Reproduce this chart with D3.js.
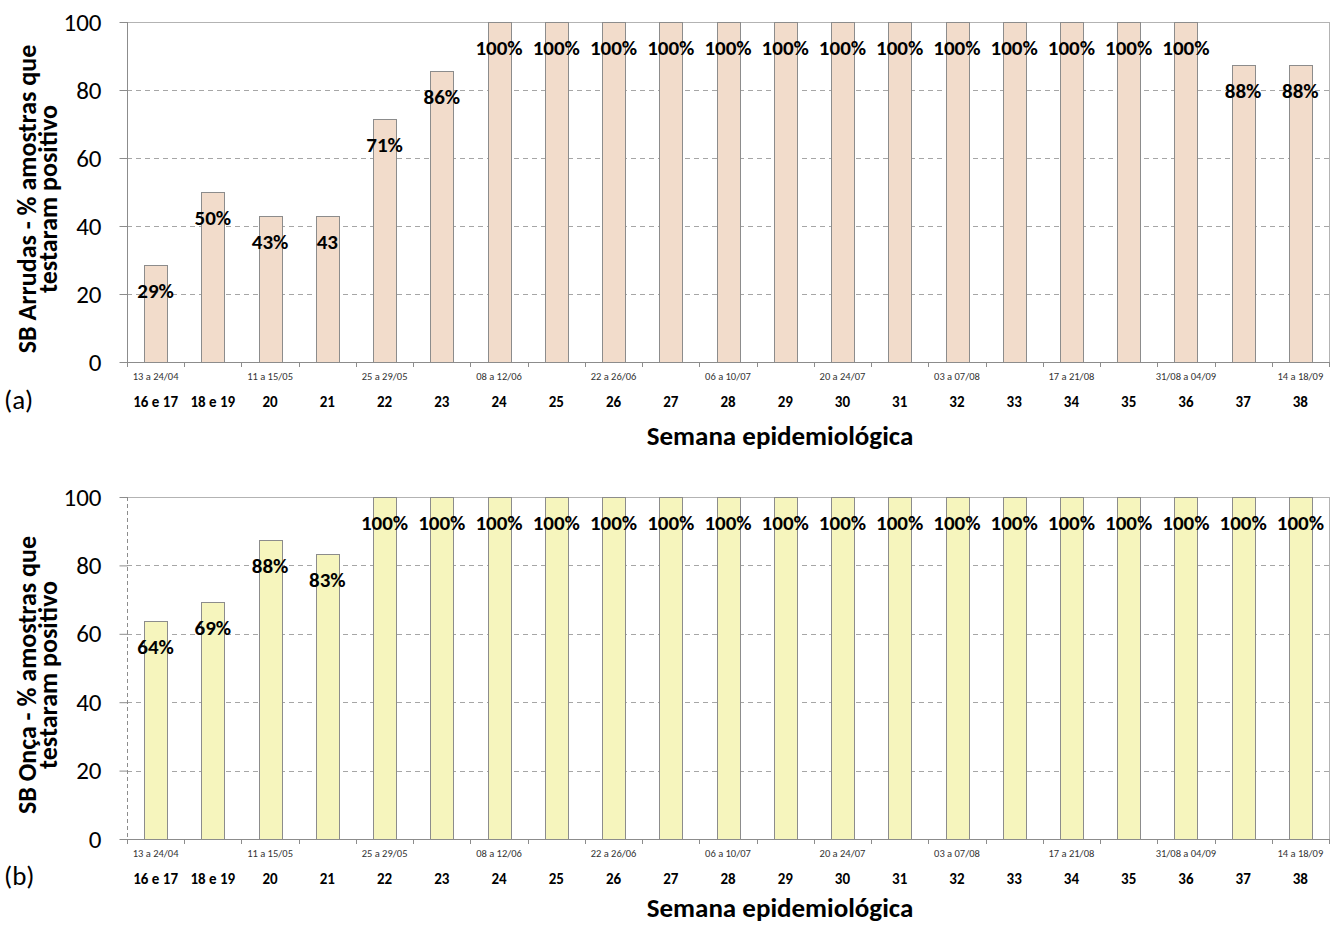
<!DOCTYPE html>
<html lang="pt">
<head>
<meta charset="utf-8">
<title>SB Arrudas / SB Onça</title>
<script src="https://cdn.jsdelivr.net/npm/d3@7"></script>
<style>
  body { margin: 0; background: #fff; }
  svg { font-family: Carlito, Lato, "Open Sans", sans-serif; }
</style>
</head>
<body>
<div id="chart"></div>
<script>
// categories (semana epidemiológica) and the date ranges shown under every other one
var semanas = ["16 e 17", "18 e 19", "20", "21", "22", "23", "24", "25", "26", "27", "28",
               "29", "30", "31", "32", "33", "34", "35", "36", "37", "38"];
var datas = ["13 a 24/04", "", "11 a 15/05", "", "25 a 29/05", "", "08 a 12/06", "",
             "22 a 26/06", "", "06 a 10/07", "", "20 a 24/07", "", "03 a 07/08", "",
             "17 a 21/08", "", "31/08 a 04/09", "", "14 a 18/09"];

// % amostras que testaram positivo
var arrudas = [28.6, 50, 42.9, 42.9, 71.4, 85.7, 100, 100, 100, 100, 100, 100, 100,
               100, 100, 100, 100, 100, 100, 87.5, 87.5];
var arrudasLabels = ["29%", "50%", "43%", "43", "71%", "86%", "100%", "100%", "100%", "100%",
                     "100%", "100%", "100%", "100%", "100%", "100%", "100%", "100%", "100%", "88%", "88%"];
var onca = [63.6, 69.2, 87.5, 83.3, 100, 100, 100, 100, 100, 100, 100, 100, 100,
            100, 100, 100, 100, 100, 100, 100, 100];
var oncaLabels = ["64%", "69%", "88%", "83%", "100%", "100%", "100%", "100%", "100%", "100%",
                  "100%", "100%", "100%", "100%", "100%", "100%", "100%", "100%", "100%", "100%", "100%"];
var yTicks = [0, 20, 40, 60, 80, 100];

var W = 1340, H = 925;
var svg = d3.select("#chart").append("svg")
    .attr("width", W)
    .attr("height", H);

function drawPanel(opts) {
  var left = 127, right = 1329;
  var top = opts.top, bottom = opts.bottom;

  var x = d3.scaleBand()
      .domain(d3.range(semanas.length))
      .range([left, right]);

  var y = d3.scaleLinear()
      .domain([0, 100])
      .range([bottom, top]);

  var g = svg.append("g");

  // gridlines
  g.selectAll(".grid")
      .data(yTicks.filter(function(d) { return d > 0 && d < 100; }))
      .enter().append("line")
      .attr("x1", left)
      .attr("x2", right)
      .attr("y1", function(d) { return Math.round(y(d)) + 0.5; })
      .attr("y2", function(d) { return Math.round(y(d)) + 0.5; })
      .style("stroke", "#a6a6a6")
      .style("stroke-dasharray", "5,4");

  // plot border top / right
  g.append("line")
      .attr("x1", left).attr("x2", right)
      .attr("y1", top + 0.5).attr("y2", top + 0.5)
      .style("stroke", "#b3b3b3");
  g.append("line")
      .attr("x1", right + 0.5).attr("x2", right + 0.5)
      .attr("y1", top).attr("y2", bottom)
      .style("stroke", "#b3b3b3");

  // bars
  g.selectAll(".bar")
      .data(opts.values)
      .enter().append("rect")
      .attr("x", function(d, i) { return Math.round(x(i) + x.bandwidth() * 0.3) + 0.5; })
      .attr("y", function(d) { return Math.round(y(d)) + 0.5; })
      .attr("width", Math.round(x.bandwidth() * 0.4))
      .attr("height", function(d) { return bottom - Math.round(y(d)); })
      .style("fill", opts.fill)
      .style("stroke", "#8c8c8c")
      .style("stroke-width", 1);

  // y axis
  var yAxis = d3.axisLeft(y)
      .tickValues(yTicks)
      .tickSize(8)
      .tickPadding(18);
  var ya = g.append("g")
      .attr("transform", "translate(" + (left + 0.5) + ",0)")
      .call(yAxis);
  ya.select(".domain")
      .style("stroke", "#8c8c8c")
      .style("stroke-dasharray", opts.dashedAxis ? "4,3" : null)
      .attr("d", "M0," + top + "V" + bottom);
  ya.selectAll(".tick line").style("stroke", "#8c8c8c");
  ya.selectAll(".tick text")
      .style("font-size", "25px")
      .style("fill", "#000")
      .style("font-family", "Carlito, Lato, sans-serif");

  // x axis with tick marks on the band edges
  g.append("line")
      .attr("x1", left).attr("x2", right + 1)
      .attr("y1", bottom + 0.5).attr("y2", bottom + 0.5)
      .style("stroke", "#8c8c8c");
  g.selectAll(".xtick")
      .data(d3.range(semanas.length + 1))
      .enter().append("line")
      .attr("x1", function(i) { return Math.round(left + i * x.step()) + 0.5; })
      .attr("x2", function(i) { return Math.round(left + i * x.step()) + 0.5; })
      .attr("y1", bottom)
      .attr("y2", bottom + 5)
      .style("stroke", "#8c8c8c");

  g.selectAll(".data-label")
      .data(datas)
      .enter().append("text")
      .attr("x", function(d, i) { return x(i) + x.bandwidth() / 2; })
      .attr("y", bottom + 18)
      .attr("text-anchor", "middle")
      .style("font-size", "10.5px")
      .style("fill", "#333")
      .text(function(d) { return d; });

  g.selectAll(".semana")
      .data(semanas)
      .enter().append("text")
      .attr("x", function(d, i) { return x(i) + x.bandwidth() / 2; })
      .attr("y", bottom + 45)
      .attr("text-anchor", "middle")
      .style("font-size", "15px")
      .style("font-weight", "bold")
      .text(function(d) { return d; });

  // value labels
  g.selectAll(".val")
      .data(opts.values)
      .enter().append("text")
      .attr("x", function(d, i) { return x(i) + x.bandwidth() / 2; })
      .attr("y", function(d) { return y(d) + 33; })
      .attr("text-anchor", "middle")
      .style("font-size", "21px")
      .style("font-weight", "bold")
      .text(function(d, i) { return opts.labels[i]; });

  // axis titles
  g.append("text")
      .attr("x", 780)
      .attr("y", opts.xTitleY)
      .attr("text-anchor", "middle")
      .style("font-size", "27px")
      .style("font-weight", "bold")
      .text("Semana epidemiológica");

  var yt = g.append("text")
      .attr("transform", "translate(36," + ((top + bottom) / 2 + 7) + ") rotate(-90)")
      .attr("text-anchor", "middle")
      .style("font-size", "26px")
      .style("font-weight", "bold");
  yt.append("tspan").attr("x", 0).attr("dy", 0).text(opts.yTitle);
  yt.append("tspan").attr("x", 0).attr("dy", 21).text("testaram positivo");

  g.append("text")
      .attr("x", 4)
      .attr("y", opts.panelY)
      .style("font-size", "27px")
      .text(opts.panel);
}

drawPanel({
  top: 22, bottom: 362,
  values: arrudas, labels: arrudasLabels,
  fill: "#f2dccb",
  yTitle: "SB Arrudas - % amostras que",
  xTitleY: 445,
  panel: "(a)", panelY: 409,
  dashedAxis: false
});

drawPanel({
  top: 497, bottom: 839,
  values: onca, labels: oncaLabels,
  fill: "#f6f5bd",
  yTitle: "SB Onça - % amostras que",
  xTitleY: 917,
  panel: "(b)", panelY: 885,
  dashedAxis: true
});
</script>
</body>
</html>
